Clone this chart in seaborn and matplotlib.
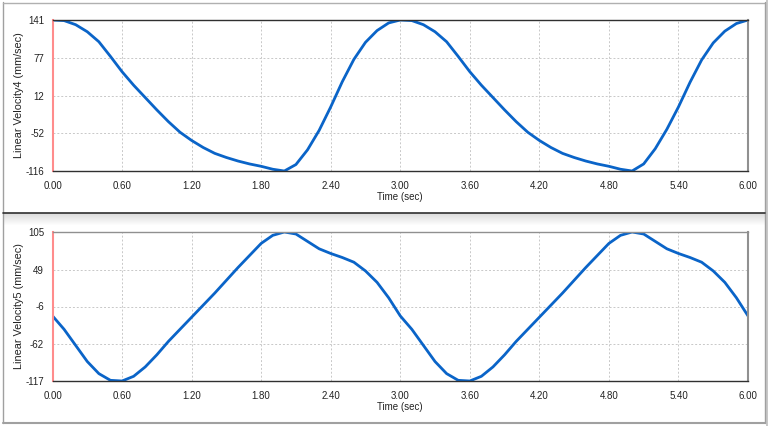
import numpy as np
import pandas as pd
import matplotlib
matplotlib.use("Agg")
import matplotlib.pyplot as plt
import seaborn as sns
from matplotlib.patches import Rectangle
from matplotlib.lines import Line2D
from matplotlib.ticker import FixedLocator

# ---- data ----
time_s = [0.0, 0.1, 0.2, 0.3, 0.4, 0.5, 0.6, 0.7, 0.8, 0.9, 1.0,
          1.1, 1.2, 1.3, 1.4, 1.5, 1.6, 1.7, 1.8, 1.9, 2.0,
          2.1, 2.2, 2.3, 2.4, 2.5, 2.6, 2.7, 2.8, 2.9, 3.0,
          3.1, 3.2, 3.3, 3.4, 3.5, 3.6, 3.7, 3.8, 3.9, 4.0,
          4.1, 4.2, 4.3, 4.4, 4.5, 4.6, 4.7, 4.8, 4.9, 5.0,
          5.1, 5.2, 5.3, 5.4, 5.5, 5.6, 5.7, 5.8, 5.9, 6.0]

velocity4 = [141, 140, 133, 121, 104, 79, 53, 30, 9, -12, -32,
             -50, -64, -76, -86, -93, -99, -104, -108, -113, -116,
             -105, -80, -47, -7, 36, 74, 103, 123, 136, 141,
             140, 133, 121, 104, 79, 53, 30, 9, -12, -32,
             -50, -64, -76, -86, -93, -99, -104, -108, -113, -116,
             -104, -78, -45, -7, 35, 73, 102, 122, 135, 141]

velocity5 = [-20, -40, -64, -88, -106, -116, -117, -110, -96, -78, -58,
             -40, -22, -4, 14, 33, 52, 70, 88, 100, 105,
             102, 91, 80, 73, 67, 60, 47, 30, 7, -20,
             -40, -64, -88, -106, -116, -117, -110, -96, -78, -58,
             -40, -22, -4, 14, 33, 52, 70, 88, 100, 105,
             102, 91, 80, 73, 67, 60, 47, 30, 7, -20]

y4_ticks = [-116, -52, 12, 77, 141]
y5_ticks = [-117, -62, -6, 49, 105]
x_ticks = [0.0, 0.6, 1.2, 1.8, 2.4, 3.0, 3.6, 4.2, 4.8, 5.4, 6.0]
x_tick_labels = ["0.00", "0.60", "1.20", "1.80", "2.40", "3.00",
                 "3.60", "4.20", "4.80", "5.40", "6.00"]
x_label = "Time (sec)"
y4_label = "Linear Velocity4 (mm/sec)"
y5_label = "Linear Velocity5 (mm/sec)"

df = pd.DataFrame({"t": time_s, "v4": velocity4, "v5": velocity5})

sns.set_style("white")
plt.rcParams["font.family"] = ["Liberation Sans", "DejaVu Sans"]

W, H = 768, 426
fig = plt.figure(figsize=(W / 100, H / 100), dpi=100)
fig.patch.set_facecolor("white")

def fx(px):
    return px / W

def fy(py):
    return 1 - py / H

# window frame decorations
fig.add_artist(Line2D([fx(2.5), fx(2.5)], [fy(2), fy(423)], color="#a0a0a0", lw=1))
fig.add_artist(Line2D([fx(2.5), fx(765)], [fy(2.5), fy(2.5)], color="#b0b0b0", lw=1))
fig.add_artist(Line2D([fx(765), fx(765)], [fy(2), fy(423)], color="#a0a0a0", lw=1))
fig.add_artist(Rectangle((fx(765.5), 0), fx(2.5), 1, color="#c8c8c8", lw=0))
fig.add_artist(Line2D([fx(2.5), fx(765)], [fy(423), fy(423)], color="#a0a0a0", lw=1.5))
# gradient band under divider
n = 12
for i in range(n):
    c = 0.86 + 0.14 * i / n
    fig.add_artist(Rectangle((fx(3), fy(213 + i + 1)), fx(762), 1 / H,
                             color=(c, c, c), lw=0))
fig.add_artist(Line2D([fx(2.5), fx(765)], [fy(212.5), fy(212.5)], color="#303030", lw=1.2))

left, right = 52.5, 748
ax1 = fig.add_axes([fx(left), fy(171), fx(right - left), (171 - 20) / H])
ax2 = fig.add_axes([fx(left), fy(381), fx(right - left), (381 - 232) / H])

line_color = "#0a64c8"
sns.lineplot(data=df, x="t", y="v4", ax=ax1, color=line_color, lw=2.0)
sns.lineplot(data=df, x="t", y="v5", ax=ax2, color=line_color, lw=2.0)

def style(ax, yt, ylab, top_color):
    ax.set_facecolor("white")
    ax.set_xlim(0, 6)
    ax.set_ylim(yt[0], yt[-1])
    ax.set_xticks(x_ticks)
    ax.set_xticklabels(x_tick_labels)
    ax.set_yticks(yt)
    ax.set_yticklabels([str(v) for v in yt])
    ax.xaxis.set_minor_locator(FixedLocator([0.3 + 0.6 * i for i in range(10)]))
    ymin = [(yt[i] + yt[i + 1]) / 2 for i in range(len(yt) - 1)]
    ax.yaxis.set_minor_locator(FixedLocator(ymin))
    ax.grid(True, which="major", color="#c8c8c8", linestyle=(0, (2, 2)), lw=0.7)
    ax.set_axisbelow(True)
    ax.tick_params(axis="both", which="major", labelsize=7, colors="#222222",
                   length=4, width=0.8, direction="inout", pad=5)
    ax.tick_params(axis="both", which="minor", length=3, width=0.8,
                   direction="inout", colors="#333333")
    ax.tick_params(axis="y", which="major", direction="out", length=4, pad=2)
    for lab in ax.get_xticklabels() + ax.get_yticklabels():
        lab.set_color("#222222")
    ax.spines["left"].set_color("#ff8c8c")
    ax.spines["left"].set_linewidth(1.5)
    ax.spines["bottom"].set_color("#303030")
    ax.spines["bottom"].set_linewidth(1.0)
    ax.spines["right"].set_color("#909090")
    ax.spines["right"].set_linewidth(1.5)
    ax.spines["top"].set_color(top_color)
    ax.spines["top"].set_linewidth(1.0)
    ax.set_xlabel(x_label, fontsize=7, color="#222222", labelpad=1)
    ax.set_ylabel(ylab, fontsize=7.8, color="#222222", labelpad=1)

style(ax1, y4_ticks, y4_label, "#303030")
style(ax2, y5_ticks, y5_label, "#909090")

fig.savefig("out.png", dpi=100)
